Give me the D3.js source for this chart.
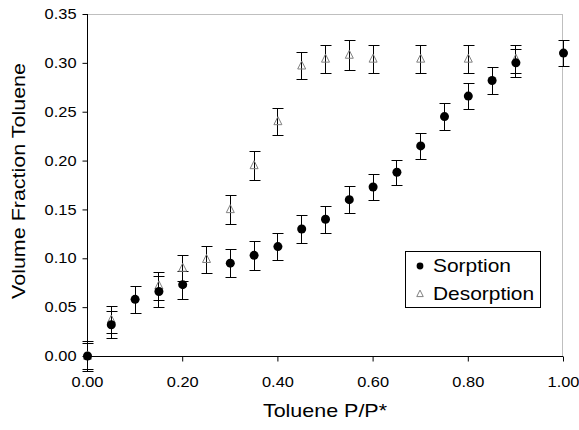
<!DOCTYPE html>
<html>
<head>
<meta charset="utf-8">
<script src="https://cdn.jsdelivr.net/npm/d3@7"></script>
<style>
  html, body { margin: 0; padding: 0; background: #fff; }
  svg { display: block; }
  text { font-family: "Liberation Sans", Arial, sans-serif; fill: #000; }
</style>
</head>
<body>
<svg id="chart" width="579" height="430"></svg>
<script>
// ---- data ----
const sorptionX   = [0, 0.05, 0.10, 0.15, 0.20, 0.30, 0.35, 0.40, 0.45, 0.50, 0.55, 0.60, 0.65, 0.70, 0.75, 0.80, 0.85, 0.90, 1.00];
const sorptionY   = [0, 0.032, 0.058, 0.066, 0.073, 0.095, 0.103, 0.112, 0.130, 0.140, 0.160, 0.173, 0.188, 0.215, 0.245, 0.266, 0.282, 0.300, 0.310];
const sorptionErr = [0.013, 0.014, 0.014, 0.0155, 0.0145, 0.0143, 0.0145, 0.0135, 0.014, 0.014, 0.0135, 0.0135, 0.013, 0.0136, 0.0135, 0.0136, 0.014, 0.014, 0.0136];

const desorptionX   = [0, 0.05, 0.15, 0.20, 0.25, 0.30, 0.35, 0.40, 0.45, 0.50, 0.55, 0.60, 0.70, 0.80, 0.90];
const desorptionY   = [0, 0.037, 0.072, 0.090, 0.099, 0.150, 0.195, 0.240, 0.297, 0.304, 0.308, 0.304, 0.304, 0.304, 0.304];
const desorptionErr = [0.015, 0.0137, 0.0143, 0.0137, 0.0136, 0.0145, 0.0145, 0.014, 0.0137, 0.0147, 0.0149, 0.0147, 0.0147, 0.0147, 0.0147];

const xTicks = [0, 0.2, 0.4, 0.6, 0.8, 1.0];
const yTicks = [0, 0.05, 0.10, 0.15, 0.20, 0.25, 0.30, 0.35];
const seriesNames = ["Sorption", "Desorption"];
const xTitle = "Toluene P/P*";
const yTitle = "Volume Fraction Toluene";

// ---- layout ----
const svg = d3.select("#chart");
const L = 87, R = 563, T = 14, B = 356;
const x = d3.scaleLinear().domain([0, 1]).range([L, R]);
const y = d3.scaleLinear().domain([0, 0.35]).range([B, T]);

// plot frame (top/right gray)
svg.append("line").attr("x1", L).attr("x2", R).attr("y1", T + 0.5).attr("y2", T + 0.5)
  .attr("stroke", "#bfbfbf").attr("stroke-width", 1);
svg.append("line").attr("x1", R - 0.5).attr("x2", R - 0.5).attr("y1", T).attr("y2", B)
  .attr("stroke", "#bfbfbf").attr("stroke-width", 1);

// axes
const yAxis = d3.axisLeft(y).tickValues(yTicks).tickFormat(d3.format(".2f")).tickSize(5).tickPadding(6);
const xAxis = d3.axisBottom(x).tickValues(xTicks).tickFormat(d3.format(".2f")).tickSize(5).tickPadding(15);

const gy = svg.append("g").attr("transform", `translate(${L + 0.5},0)`).call(yAxis);
const gx = svg.append("g").attr("transform", `translate(0,${B + 0.5})`).call(xAxis);
[gx, gy].forEach(g => {
  g.select(".domain").attr("stroke", "#000");
  g.selectAll(".tick line").attr("stroke", "#000");
  g.selectAll("text").attr("font-size", "14.5px").attr("font-family", '"Liberation Sans", Arial, sans-serif').attr("fill", "#000");
});
gx.select(".domain").attr("d", `M${L},0H${R}`);
gy.select(".domain").attr("d", `M0,${B}V${T}`);

// error bars
const cap = 5;
function errorBars(xs, ys, es, color) {
  const g = svg.append("g").attr("stroke", color).attr("stroke-width", 1).attr("fill", "none");
  xs.forEach((xv, i) => {
    const cx = Math.round(x(xv)) + 0.5;
    const yt = Math.round(y(ys[i] + es[i])) + 0.5;
    const yb = Math.round(y(ys[i] - es[i])) + 0.5;
    g.append("line").attr("x1", cx).attr("x2", cx).attr("y1", yt).attr("y2", yb);
    g.append("line").attr("x1", cx - cap).attr("x2", cx + cap + 1).attr("y1", yt).attr("y2", yt);
    g.append("line").attr("x1", cx - cap).attr("x2", cx + cap + 1).attr("y1", yb).attr("y2", yb);
  });
}
errorBars(desorptionX, desorptionY, desorptionErr, "#000");
errorBars(sorptionX, sorptionY, sorptionErr, "#000");

// markers
function triPath(cx, cy, s) {
  const h = s;
  return `M${cx},${cy - h * 0.6}L${cx + s / 2},${cy + h * 0.4}L${cx - s / 2},${cy + h * 0.4}Z`;
}
svg.append("g").selectAll("path").data(desorptionX).join("path")
  .attr("d", (d, i) => triPath(x(d) + 0.5, y(desorptionY[i]), 8))
  .attr("fill", "none").attr("stroke", "#808080").attr("stroke-width", 1);

svg.append("g").selectAll("circle").data(sorptionX).join("circle")
  .attr("cx", d => x(d) + 0.5).attr("cy", (d, i) => y(sorptionY[i]))
  .attr("r", 4.5).attr("fill", "#000");

// axis titles
svg.append("text").attr("x", (L + R) / 2).attr("y", 417).attr("text-anchor", "middle")
  .attr("font-size", "19px").text(xTitle);
svg.append("text").attr("transform", "translate(25,181) rotate(-90)").attr("text-anchor", "middle")
  .attr("font-size", "19px").text(yTitle);

// legend
const lg = svg.append("g");
lg.append("rect").attr("x", 405.5).attr("y", 251.5).attr("width", 135).attr("height", 56)
  .attr("fill", "#fff").attr("stroke", "#000").attr("stroke-width", 1);
lg.append("circle").attr("cx", 420).attr("cy", 266).attr("r", 3.4).attr("fill", "#000");
lg.append("path").attr("d", triPath(420, 294, 6.5)).attr("fill", "none").attr("stroke", "#808080");
lg.append("text").attr("x", 433).attr("y", 272).attr("font-size", "18.5px").text(seriesNames[0]);
lg.append("text").attr("x", 433).attr("y", 300).attr("font-size", "18.5px").text(seriesNames[1]);

// horizontal stretch of all text (reference glyphs are wider than Arial)
svg.selectAll("text").each(function () {
  const len = this.getComputedTextLength();
  this.setAttribute("textLength", (len * 1.13).toFixed(1));
  this.setAttribute("lengthAdjust", "spacingAndGlyphs");
});
</script>
</body>
</html>
